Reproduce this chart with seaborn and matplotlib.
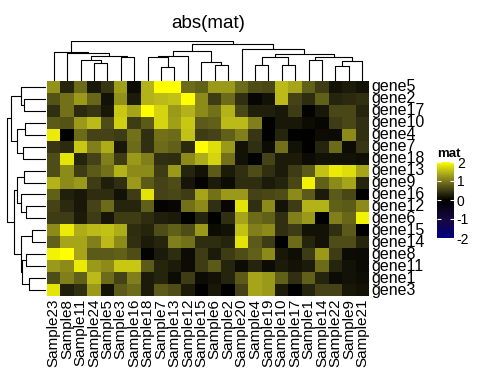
import numpy as np
import pandas as pd
import matplotlib
matplotlib.use("Agg")
import matplotlib.pyplot as plt
import seaborn as sns
from matplotlib.colors import LinearSegmentedColormap

# row / column order as shown after clustering
genes = ["gene5", "gene2", "gene17", "gene10", "gene4", "gene7", "gene18", "gene13", "gene9",
         "gene16", "gene12", "gene6", "gene15", "gene14", "gene8", "gene11", "gene1", "gene3"]
samples = ["Sample23", "Sample8", "Sample11", "Sample24", "Sample5", "Sample3", "Sample16", "Sample18",
           "Sample7", "Sample13", "Sample12", "Sample15", "Sample6", "Sample2", "Sample20", "Sample4",
           "Sample19", "Sample10", "Sample17", "Sample1", "Sample14", "Sample22", "Sample9", "Sample21"]

# abs(mat) values (one list per gene)
abs_mat = [
    [1.20, 0.30, 0.90, 0.20, 0.45, 1.30, 0.10, 1.45, 2.00, 2.00, 0.90, 0.80, 1.25, 1.25, 0.90, 0.65, 0.60, 1.50, 1.35, 0.80, 0.50, 0.15, 0.22, 0.15],
    [0.70, 0.95, 1.25, 0.85, 0.15, 1.20, 0.22, 1.45, 1.50, 1.55, 2.00, 1.15, 0.50, 0.90, 0.40, 0.05, 0.15, 1.50, 0.55, 0.38, 0.80, 0.30, 0.35, 0.40],
    [0.40, 0.95, 0.35, 0.45, 0.20, 1.60, 1.35, 2.00, 1.70, 1.25, 1.45, 1.15, 0.95, 1.45, 0.60, 0.25, 0.25, 0.20, 0.50, 0.03, 0.20, 0.60, 0.60, 0.30],
    [0.75, 0.70, 1.25, 1.50, 0.65, 1.65, 0.50, 0.75, 1.70, 1.30, 1.60, 0.75, 0.80, 1.50, 1.50, 1.05, 0.00, 0.20, 0.20, 0.10, 0.05, 0.50, 0.60, 0.40],
    [1.85, 0.00, 0.90, 0.55, 0.55, 0.50, 0.95, 0.40, 0.95, 0.90, 1.55, 0.50, 0.55, 0.80, 1.05, 0.45, 0.00, 0.30, 0.00, 0.00, 0.10, 0.08, 1.15, 0.40],
    [0.45, 0.35, 1.60, 1.05, 1.40, 0.20, 0.90, 0.40, 0.90, 0.80, 0.35, 2.00, 1.75, 1.25, 0.15, 0.40, 0.10, 0.95, 0.15, 0.00, 0.30, 0.90, 0.10, 0.45],
    [0.65, 1.80, 0.30, 0.55, 1.05, 0.50, 1.25, 1.05, 0.40, 0.38, 1.15, 1.40, 1.70, 0.95, 0.15, 0.03, 0.55, 0.22, 0.22, 0.10, 0.15, 0.15, 0.15, 0.12],
    [0.65, 1.15, 0.50, 0.75, 0.95, 1.45, 1.15, 1.15, 0.50, 1.25, 0.30, 0.15, 0.75, 0.22, 0.40, 0.65, 0.40, 0.22, 0.50, 0.75, 1.55, 1.85, 1.75, 1.35],
    [1.45, 1.15, 1.25, 0.50, 0.25, 0.40, 1.25, 0.75, 0.55, 0.65, 0.18, 0.03, 0.22, 0.10, 0.38, 0.38, 0.22, 0.30, 0.60, 1.90, 0.80, 1.15, 1.35, 0.30],
    [0.80, 0.28, 0.20, 0.38, 0.38, 0.15, 0.50, 1.80, 0.55, 0.60, 0.50, 1.35, 0.95, 1.25, 1.25, 0.55, 0.60, 0.65, 1.15, 0.75, 0.22, 0.75, 0.60, 0.00],
    [0.55, 0.35, 0.20, 0.55, 0.90, 0.30, 0.30, 0.80, 0.03, 0.05, 0.95, 1.15, 0.40, 0.05, 1.80, 0.40, 1.15, 0.15, 0.50, 1.45, 1.45, 0.80, 0.75, 1.15],
    [0.50, 0.50, 0.22, 0.50, 0.18, 0.50, 0.50, 0.38, 0.25, 0.22, 0.00, 0.30, 0.00, 0.40, 1.35, 0.90, 0.80, 0.40, 1.05, 1.25, 0.00, 1.05, 0.85, 1.90],
    [1.15, 1.85, 1.40, 1.50, 1.55, 1.40, 0.38, 0.30, 0.65, 0.80, 0.65, 1.25, 0.10, 0.15, 1.55, 1.05, 1.15, 0.40, 0.50, 0.15, 0.15, 0.40, 0.75, 0.00],
    [0.80, 1.35, 1.35, 1.05, 1.50, 1.15, 0.40, 0.22, 0.30, 1.05, 0.95, 0.38, 0.38, 0.30, 1.80, 0.75, 0.50, 0.00, 0.90, 0.30, 0.15, 0.65, 0.65, 0.30],
    [1.90, 2.00, 1.35, 0.75, 0.75, 0.80, 0.65, 0.03, 0.22, 0.38, 0.10, 0.50, 0.22, 0.50, 0.65, 0.80, 1.15, 0.20, 0.12, 0.50, 1.25, 0.50, 0.10, 0.08],
    [1.25, 1.15, 1.85, 1.25, 1.15, 1.60, 1.60, 0.75, 0.30, 0.22, 0.10, 0.50, 0.75, 0.30, 0.10, 0.30, 0.10, 0.22, 0.15, 0.22, 0.90, 0.30, 0.15, 0.08],
    [0.65, 1.05, 0.80, 1.50, 0.90, 0.55, 1.05, 0.22, 0.30, 0.10, 0.50, 0.10, 0.15, 0.30, 0.75, 1.35, 1.25, 0.80, 0.40, 0.80, 0.30, 0.10, 0.15, 0.12],
    [1.80, 0.25, 0.40, 1.25, 0.15, 0.75, 0.90, 0.22, 0.75, 0.65, 0.22, 0.00, 0.20, 0.00, 0.55, 1.35, 1.25, 0.22, 0.00, 0.30, 0.55, 0.55, 0.20, 0.15],
]

# dendrograms: (left, right, merge height); ints are leaf positions
row_tree = (((0, (1, 2, 66), 76), ((3, 4, 62), (5, 6, 68), 86), 104),
            (((7, 8, 65), (9, (10, 11, 59), 76), 88),
             ((12, 13, 41), ((14, 15, 61), (16, 17, 50), 71), 74), 95), 116)
col_tree = ((0, (1, ((2, (3, 4, 53), 62), (5, 6, 71), 74), 83), 86),
            ((((7, (8, 9, 41), 73), 10, 74), (11, (12, 13, 47), 56), 89),
             (14, (((15, 16, 47), (17, 18, 47), 71),
                   ((19, 20, 62), ((21, 22, 44), 23, 59), 71), 80), 97), 110), 119)

legend_ticks = [-2, -1, 0, 1, 2]


def draw_tree(ax, node, side):
    """Draw a dendrogram branch recursively, returns (position, height)."""
    if isinstance(node, int):
        return node + 0.5, 0.0
    left, right, h = node
    p1, h1 = draw_tree(ax, left, side)
    p2, h2 = draw_tree(ax, right, side)
    pos = [p1, p1, p2, p2]
    hts = [h1, h, h, h2]
    if side == "top":
        ax.plot(pos, hts, color="black", lw=0.8, solid_capstyle="butt")
    else:
        ax.plot(hts, pos, color="black", lw=0.8, solid_capstyle="butt")
    return (p1 + p2) / 2, h


# navy - black - yellow ramp, roughly as interpolated in LAB space
ramp = LinearSegmentedColormap.from_list("navy_black_yellow", [
    (0.0, "#000080"), (0.25, "#16083f"), (0.5, "#000000"),
    (0.625, "#3d3b15"), (0.75, "#78771b"), (0.875, "#b9b819"), (1.0, "#ffff00")])

plt.rcParams["font.family"] = ["Liberation Sans", "DejaVu Sans"]

W, H = 480, 384
fig = plt.figure(figsize=(4.8, 3.84), dpi=100)


def box(x0, y0, x1, y1):
    return [x0 / W, 1 - y1 / H, (x1 - x0) / W, (y1 - y0) / H]


ax = fig.add_axes(box(47, 81, 369, 296))
ax_top = fig.add_axes(box(47, 41, 369, 81))
ax_left = fig.add_axes(box(6, 81, 46, 296))
cax = fig.add_axes(box(437, 162, 454, 238))

df = pd.DataFrame(abs_mat, index=genes, columns=samples)
sns.heatmap(df, ax=ax, cmap=ramp, vmin=-2, vmax=2, cbar_ax=cax,
            xticklabels=True, yticklabels=True,
            cbar_kws={"ticks": legend_ticks})

ax.yaxis.tick_right()
ax.tick_params(axis="both", length=0, pad=2)
ax.set_yticklabels(genes, rotation=0, va="center", fontsize=11.5)
ax.set_xticklabels(samples, rotation=90, fontsize=11)
ax.set_xlabel("")
ax.set_ylabel("")

draw_tree(ax_top, col_tree, "top")
ax_top.set_xlim(0, len(samples))
ax_top.set_ylim(0, 120)
ax_top.axis("off")

draw_tree(ax_left, row_tree, "left")
ax_left.set_ylim(len(genes), 0)
ax_left.set_xlim(120, 0)
ax_left.axis("off")

cbar = ax.collections[0].colorbar
cbar.outline.set_visible(False)
cax.tick_params(axis="y", direction="in", color="white", length=3, width=0.8,
                left=True, right=True, labelsize=10, pad=2)
cax.set_yticklabels([str(t) for t in legend_ticks])

fig.text(437 / W, 1 - 154 / H, "mat", fontsize=9.5, fontweight="bold", ha="left", va="center")
fig.text(208 / W, 1 - 24 / H, "abs(mat)", fontsize=13.5, ha="center", va="center")

fig.savefig("out.png", dpi=100)
